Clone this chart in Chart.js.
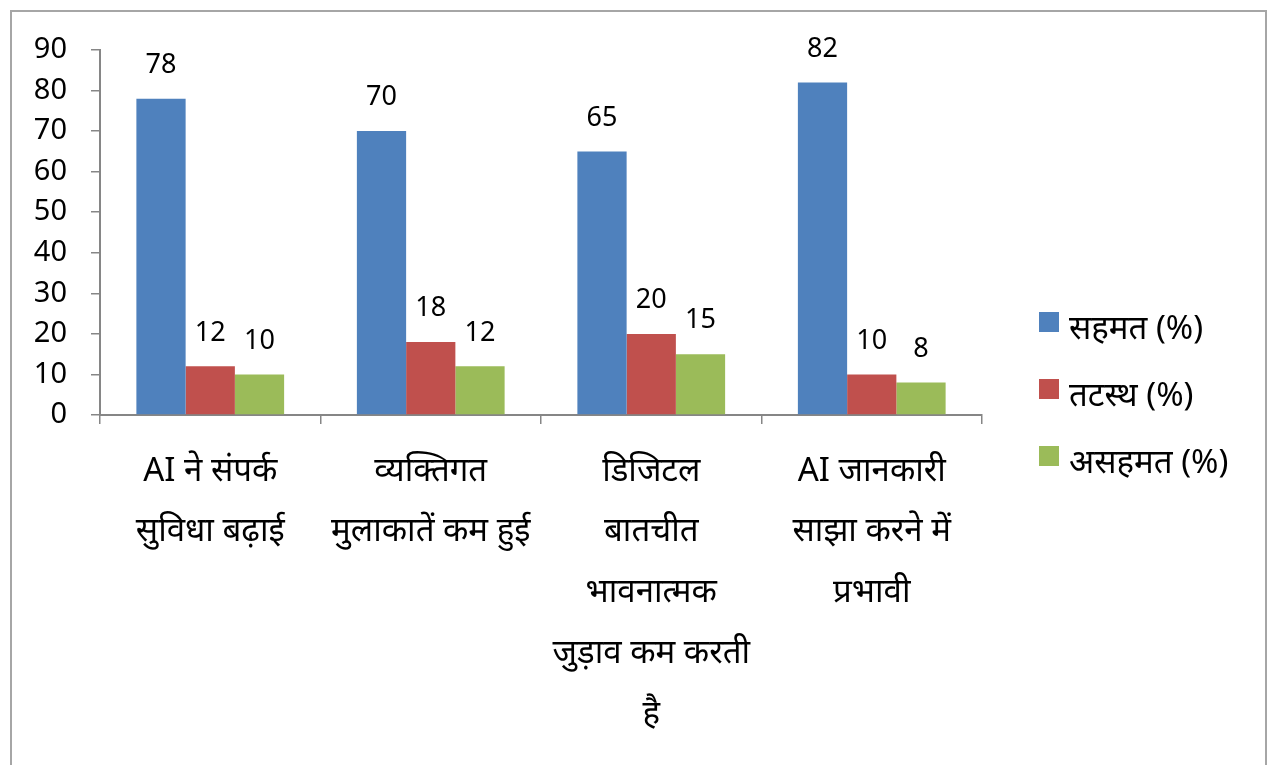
<!DOCTYPE html>
<html>
<head>
<meta charset="utf-8">
<script src="https://cdn.jsdelivr.net/npm/chart.js@4"></script>
<style>
  html, body { margin: 0; padding: 0; background: #fff; overflow: hidden; }
  #frame {
    position: absolute; left: 10px; top: 10px;
    width: 1253px; height: 770px;
    border: 2px solid #a6a6a6;
  }
  canvas { display: block; }
</style>
</head>
<body>
<div id="frame"><canvas id="chart" width="1253" height="760"></canvas></div>
<script>
const categories = [
  ["AI ने संपर्क", "सुविधा बढ़ाई"],
  ["व्यक्तिगत", "मुलाकातें कम हुई"],
  ["डिजिटल", "बातचीत", "भावनात्मक", "जुड़ाव कम करती", "है"],
  ["AI जानकारी", "साझा करने में", "प्रभावी"],
];
const seriesNames = ["सहमत (%)", "तटस्थ (%)", "असहमत (%)"];
const agree = [78, 70, 65, 82];
const neutral = [12, 18, 20, 10];
const disagree = [10, 12, 15, 8];
const yTicks = [0, 10, 20, 30, 40, 50, 60, 70, 80, 90];

const colors = ["#4f81bd", "#c0504d", "#9bbb59"];
const axisColor = "#868686";
const fontFamily = "'Noto Sans', 'Liberation Sans', sans-serif";

// value labels above each bar
const barLabels = {
  id: "barLabels",
  afterDatasetsDraw(chart) {
    const ctx = chart.ctx;
    ctx.save();
    ctx.font = "27px " + fontFamily;
    ctx.fillStyle = "#000";
    ctx.textAlign = "center";
    ctx.textBaseline = "bottom";
    chart.data.datasets.forEach((ds, i) => {
      chart.getDatasetMeta(i).data.forEach((bar, j) => {
        ctx.fillText(String(ds.data[j]), bar.x, bar.y - 20);
      });
    });
    ctx.restore();
  },
};

// legend on the right, stacked vertically
const sideLegend = {
  id: "sideLegend",
  afterDraw(chart) {
    const ctx = chart.ctx;
    const left = chart.chartArea.right + 57;
    const top = 300;
    const gap = 67;
    ctx.save();
    ctx.font = "33px " + fontFamily;
    ctx.textAlign = "left";
    ctx.textBaseline = "middle";
    chart.data.datasets.forEach((ds, i) => {
      const y = top + i * gap;
      ctx.fillStyle = ds.backgroundColor;
      ctx.fillRect(left, y, 20, 20);
      ctx.fillStyle = "#000";
      ctx.fillText(ds.label, left + 30, y + 18);
    });
    ctx.restore();
  },
};

new Chart(document.getElementById("chart"), {
  type: "bar",
  data: {
    labels: categories,
    datasets: [
      { label: seriesNames[0], data: agree, backgroundColor: colors[0] },
      { label: seriesNames[1], data: neutral, backgroundColor: colors[1] },
      { label: seriesNames[2], data: disagree, backgroundColor: colors[2] },
    ],
  },
  options: {
    responsive: false,
    animation: false,
    layout: { padding: { top: 38, right: 283, left: 0, bottom: 0 } },
    datasets: {
      bar: { categoryPercentage: 0.67, barPercentage: 1.0 },
    },
    plugins: {
      legend: { display: false },
      tooltip: { enabled: false },
    },
    scales: {
      x: {
        grid: {
          offset: true,
          drawOnChartArea: false,
          drawTicks: true,
          tickLength: 9,
          color: axisColor,
          lineWidth: 1.5,
        },
        border: { color: axisColor, width: 2 },
        ticks: {
          color: "#000",
          font: { family: fontFamily, size: 33, lineHeight: 1.84 },
          padding: 17,
          maxRotation: 0,
          autoSkip: false,
        },
        afterFit(scale) { scale.height = 357; },
      },
      y: {
        min: 0,
        max: 90,
        afterBuildTicks(scale) { scale.ticks = yTicks.map((v) => ({ value: v })); },
        grid: {
          drawOnChartArea: false,
          drawTicks: true,
          tickLength: 9,
          color: axisColor,
          lineWidth: 1.5,
        },
        border: { color: axisColor, width: 2 },
        ticks: {
          color: "#000",
          font: { family: fontFamily, size: 29, lineHeight: 1 },
          padding: 24,
        },
        afterFit(scale) {
          scale.width = 88;
          scale.paddingTop = 0;
        },
      },
    },
  },
  plugins: [barLabels, sideLegend],
});
</script>
</body>
</html>
